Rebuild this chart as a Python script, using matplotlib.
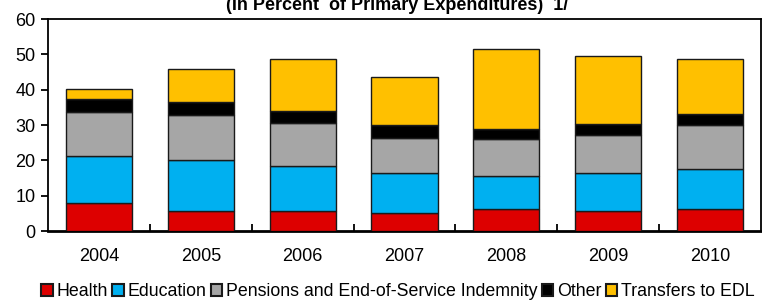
"""Stacked bars: composition of primary expenditures, 2004-2010."""

import matplotlib

matplotlib.use("Agg")
import matplotlib.pyplot as plt
import numpy as np

plt.rcParams["font.family"] = ["Liberation Sans", "DejaVu Sans"]

years = ["2004", "2005", "2006", "2007", "2008", "2009", "2010"]
health = [7.9, 5.8, 5.8, 5.0, 6.2, 5.7, 6.2]
education = [13.4, 14.3, 12.6, 11.3, 9.3, 10.6, 11.4]
pensions = [12.5, 12.8, 12.1, 10.0, 10.4, 10.8, 12.5]
other = [3.7, 3.7, 3.6, 3.6, 3.1, 3.2, 3.1]
transfers_edl = [2.7, 9.2, 14.6, 13.7, 22.6, 19.3, 15.5]

series = [
    ("Health", health, "#DD0000"),
    ("Education", education, "#00B0F0"),
    ("Pensions and End-of-Service Indemnity", pensions, "#A6A6A6"),
    ("Other", other, "#000000"),
    ("Transfers to EDL", transfers_edl, "#FFC000"),
]


def main():
    fig = plt.figure(figsize=(7.62, 3.01), dpi=100)
    ax = fig.add_axes([48 / 762, 1 - 231 / 301, 713 / 762, 212 / 301])

    x = np.arange(len(years))
    bottom = np.zeros(len(years))
    for name, values, color in series:
        ax.bar(x, values, width=0.65, bottom=bottom, color=color,
               edgecolor="#1a1a1a", linewidth=1.0, label=name, zorder=3)
        bottom += np.array(values)

    ax.set_xlim(-0.5, len(years) - 0.5)
    ax.set_ylim(0, 60)
    ax.set_yticks(range(0, 61, 10))
    ax.set_xticks(x)
    ax.set_xticklabels(years)
    ax.set_xticks(np.arange(0.5, len(years) - 1, 1.0), minor=True)

    ax.tick_params(axis="y", direction="out", length=5, width=1.3,
                   labelsize=13, pad=4)
    ax.tick_params(axis="x", which="major", length=0, labelsize=13, pad=12)
    ax.tick_params(axis="x", which="minor", direction="in", length=5,
                   width=1.3)
    for side in ["left", "right", "top"]:
        ax.spines[side].set_linewidth(1.3)
    ax.spines["bottom"].set_linewidth(2.0)

    fig.text(397 / 762, 1 - 10 / 301,
             "(In Percent  of Primary Expenditures)  1/",
             ha="center", va="baseline", fontsize=13, fontweight="bold")

    leg = fig.legend(loc="center", bbox_to_anchor=(398 / 762, 1 - 292 / 301),
                     ncol=5, frameon=False, fontsize=12.8, handlelength=0.65,
                     handleheight=0.65, handletextpad=0.2, columnspacing=0.25,
                     borderaxespad=0, borderpad=0)
    for handle in leg.legend_handles:
        handle.set_linewidth(1.5)

    fig.savefig("out.png", dpi=100)
    plt.close(fig)


if __name__ == "__main__":
    main()
